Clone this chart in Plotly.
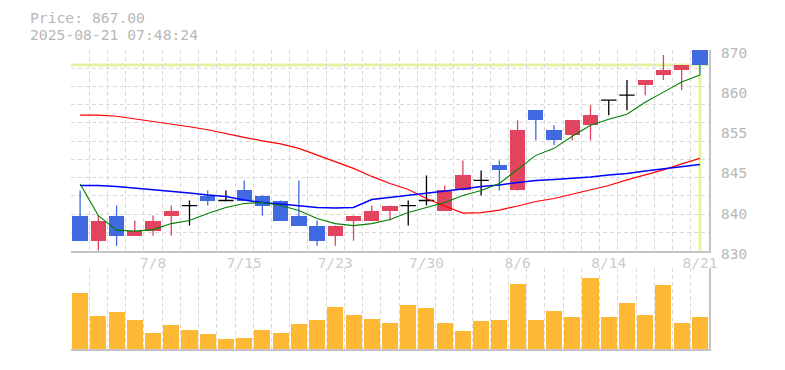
import plotly.graph_objects as go

# ---------------- data ----------------
dates = ["7/2", "7/3", "7/4", "7/7", "7/8", "7/9", "7/10", "7/11", "7/14", "7/15",
         "7/16", "7/17", "7/18", "7/22", "7/23", "7/24", "7/25", "7/28", "7/29", "7/30",
         "7/31", "8/1", "8/4", "8/5", "8/6", "8/7", "8/8", "8/12", "8/13", "8/14",
         "8/15", "8/18", "8/19", "8/20", "8/21"]
open_p = [837, 832, 837, 833, 834, 837, 839, 841, 840, 842,
          841, 840, 837, 835, 833, 836, 836, 838, 839, 840,
          838, 842, 844, 847, 842, 858, 854, 853, 855, 860,
          861, 863, 865, 866, 870]
high_p = [842, 837, 839, 836, 837, 839, 840, 842, 842, 844,
          841, 840, 844, 836, 835, 837, 839, 839, 840, 845,
          843, 848, 846, 848, 856, 858, 855, 856, 859, 860,
          864, 864, 869, 867, 870]
low_p = [832, 830, 831, 833, 833, 833, 835, 839, 840, 840,
         837, 836, 835, 831, 831, 832, 836, 836, 835, 839,
         838, 842, 841, 842, 842, 852, 851, 852, 852, 857,
         858, 861, 864, 862, 865]
close_p = [832, 836, 833, 834, 836, 838, 839, 840, 840, 840,
           839, 836, 835, 832, 835, 837, 838, 839, 839, 840,
           842, 845, 844, 846, 854, 856, 852, 856, 857, 860,
           861, 864, 866, 867, 867]
volume = [56000, 33000, 37000, 29000, 16000, 24000, 19000, 15000, 10000, 11000,
          19000, 16000, 25000, 29000, 42000, 34000, 30000, 26000, 44000, 41000,
          26000, 18000, 28000, 29000, 65000, 29000, 38000, 32000, 71000, 32000,
          46000, 34000, 64000, 26000, 32000]
ma_short = [843.3, 837.0, 834.1, 833.9, 834.2, 835.4, 836.0, 837.4, 838.6, 839.4,
            839.6, 839.0, 838.0, 836.4, 835.4, 835.0, 835.4, 836.2, 837.6, 838.6,
            839.6, 841.0, 842.0, 843.4, 846.2, 849.0, 850.4, 852.8, 855.0, 856.2,
            857.2, 859.6, 861.6, 863.6, 865.0]
ma_mid = [843.0, 843.0, 842.8, 842.5, 842.2, 841.9, 841.5, 841.1, 840.8, 840.1,
          839.6, 839.3, 839.0, 838.6, 838.5, 838.6, 840.2, 840.6, 841.1, 841.5,
          841.8, 842.3, 842.8, 843.1, 843.6, 844.0, 844.2, 844.4, 844.7, 845.1,
          845.4, 845.9, 846.3, 846.7, 847.2]
ma_long = [857.0, 857.0, 856.8, 856.3, 855.8, 855.2, 854.7, 854.1, 853.3, 852.6,
           851.9, 851.3, 850.4, 849.1, 847.7, 846.4, 844.8, 843.4, 842.2, 840.4,
           838.9, 837.5, 837.6, 838.1, 838.9, 839.8, 840.4, 841.3, 842.1, 843.0,
           844.1, 845.1, 846.1, 847.3, 848.4]
label_dates = ["7/8", "7/15", "7/23", "7/30", "8/6", "8/14", "8/21"]
price_tick_vals = [830, 838, 846, 854, 862, 870]
price_tick_text = ["830", "840", "845", "855", "860", "870"]
timestamp = "2025-08-21 07:48:24"

# ---------------- styling ----------------
UP = "#e2445f"
DOWN = "#4169e1"
DOJI = "#000000"
VOL = "#fdb933"
GRID = "#d9d9d9"
AXIS = "#c4c4c4"
TXT = "#b8b8b8"
HL = "#e3f5a3"
FONT = "DejaVu Sans Mono"
BODY_W = 0.84
DASH = "4px,3px"

n = len(dates)
idx = list(range(n))

fig = go.Figure()

groups = {"up": ([], UP), "down": ([], DOWN), "doji": ([], DOJI)}
for i in idx:
    if close_p[i] > open_p[i]:
        groups["up"][0].append(i)
    elif close_p[i] < open_p[i]:
        groups["down"][0].append(i)
    else:
        groups["doji"][0].append(i)

# wicks (and doji crosses)
for key, (ids, col) in groups.items():
    wx, wy = [], []
    for i in ids:
        wx += [i, i, None]
        wy += [low_p[i], high_p[i], None]
    if key == "doji":
        for i in ids:
            wx += [i - BODY_W / 2, i + BODY_W / 2, None]
            wy += [open_p[i], close_p[i], None]
    fig.add_trace(go.Scatter(x=wx, y=wy, mode="lines", line=dict(color=col, width=1.3),
                             hoverinfo="skip", showlegend=False, xaxis="x", yaxis="y"))

# bodies
for key in ("up", "down"):
    ids, col = groups[key]
    fig.add_trace(go.Bar(x=ids, y=[close_p[i] - open_p[i] for i in ids],
                         base=[open_p[i] for i in ids], width=BODY_W,
                         marker=dict(color=col, line=dict(width=0)),
                         showlegend=False, xaxis="x", yaxis="y"))

# moving averages
fig.add_trace(go.Scatter(x=idx, y=ma_long, mode="lines", line=dict(color="#ff0000", width=1.2),
                         showlegend=False, xaxis="x", yaxis="y"))
fig.add_trace(go.Scatter(x=idx, y=ma_mid, mode="lines", line=dict(color="#0000ff", width=1.5),
                         showlegend=False, xaxis="x", yaxis="y"))
fig.add_trace(go.Scatter(x=idx, y=ma_short, mode="lines", line=dict(color="#008000", width=1.1),
                         showlegend=False, xaxis="x", yaxis="y"))

# volume
fig.add_trace(go.Bar(x=idx, y=volume, width=0.88, marker=dict(color=VOL, line=dict(width=0)),
                     showlegend=False, xaxis="x2", yaxis="y2"))

last = close_p[-1]
fig.add_shape(type="line", xref="x domain", x0=0, x1=1, yref="y", y0=last, y1=last,
              line=dict(color=HL, width=3), layer="below")
fig.add_shape(type="line", xref="x", x0=n - 1, x1=n - 1, yref="y", y0=price_tick_vals[0], y1=last,
              line=dict(color=HL, width=3), layer="below")

tickfont = dict(family=FONT, size=14.5, color=TXT)
label_idx = [dates.index(d) for d in label_dates]
xgrid = dict(tick0=-0.5, dtick=1, showgrid=True, gridcolor=GRID, griddash=DASH, gridwidth=1, ticks="")
ygrid = dict(tick0=price_tick_vals[0], dtick=(price_tick_vals[-1] - price_tick_vals[0]) / 11,
             showgrid=True, gridcolor=GRID, griddash=DASH, gridwidth=1, ticks="")

# the page body adds an 8px offset; margins compensate so the plot sits at 71..709 x 50..349
fig.update_layout(
    width=785, height=370,
    margin=dict(l=63, r=84, t=42, b=29),
    paper_bgcolor="white", plot_bgcolor="white",
    barmode="overlay", bargap=0,
    showlegend=False,
    xaxis=dict(domain=[0, 1], range=[-0.5, n - 0.5], anchor="y",
               tickmode="array", tickvals=label_idx, ticktext=label_dates,
               tickfont=dict(family=FONT, size=14.5, color="#cccccc"),
               ticks="", ticklabelstandoff=-2,
               showgrid=False, zeroline=False, minor=xgrid,
               showline=True, linecolor=AXIS, linewidth=2),
    xaxis2=dict(domain=[0, 1], range=[-0.5, n - 0.5], anchor="y2",
                showticklabels=False, showgrid=False, zeroline=False, minor=xgrid,
                showline=True, linecolor=AXIS, linewidth=2),
    yaxis=dict(domain=[0.3288, 1], range=[price_tick_vals[0], price_tick_vals[-1]],
               side="right", anchor="x",
               tickmode="array", tickvals=price_tick_vals,
               showticklabels=False, ticks="",
               showgrid=False, zeroline=False, minor=ygrid,
               showline=True, linecolor=AXIS, linewidth=1.5),
    yaxis2=dict(domain=[0, 0.2709], range=[0, 81000], side="right", anchor="x2",
                showticklabels=False, showgrid=False, zeroline=False, ticks="",
                showline=True, linecolor=AXIS, linewidth=1.5),
)

# price axis labels (placed right of the price panel)
for v, t in zip(price_tick_vals, price_tick_text):
    fig.add_annotation(text=t, xref="x domain", x=1, yref="y", y=v,
                       xanchor="left", yanchor="middle", xshift=10, yshift=-3,
                       showarrow=False, font=tickfont)

fig.add_annotation(text=f"Price: {last:.2f}", xref="paper", yref="paper",
                   x=(28 - 71) / 638, y=(349 - 17) / 299, xanchor="left", yanchor="middle",
                   showarrow=False, font=dict(family=FONT, size=14.7, color=TXT))
fig.add_annotation(text=timestamp, xref="paper", yref="paper",
                   x=(28 - 71) / 638, y=(349 - 34) / 299, xanchor="left", yanchor="middle",
                   showarrow=False, font=dict(family=FONT, size=14.7, color=TXT))

fig.write_html("out.html")
